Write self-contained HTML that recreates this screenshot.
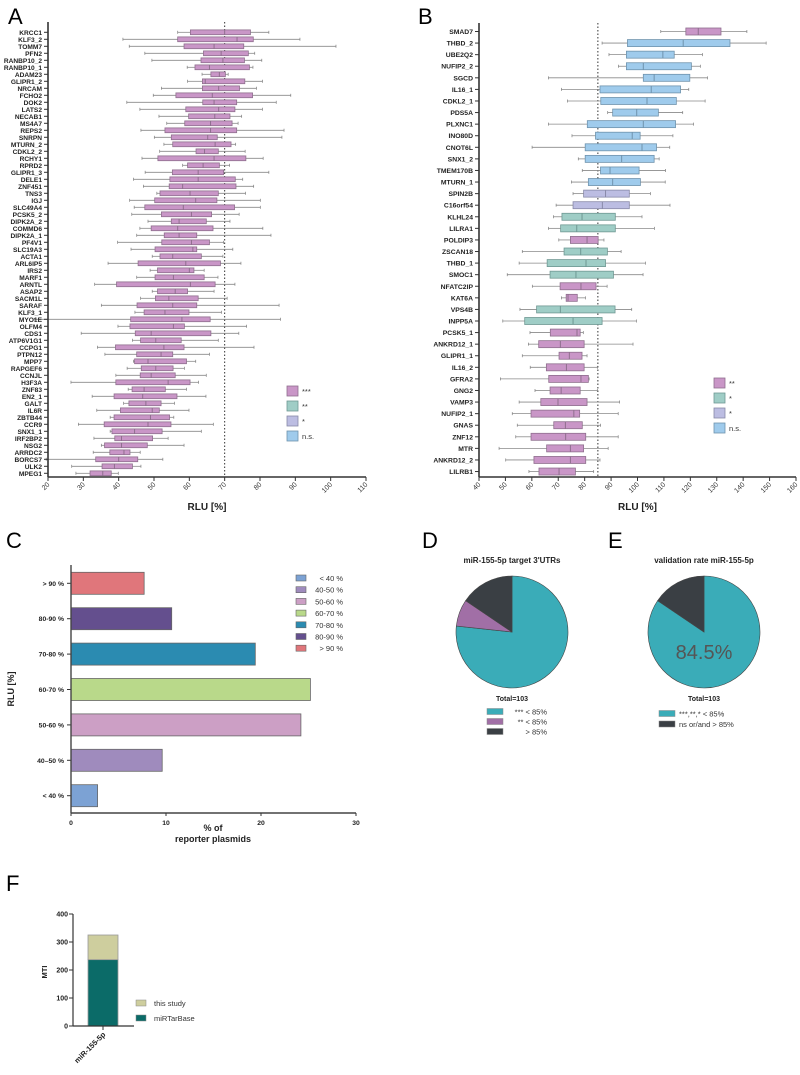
<!DOCTYPE html>
<html><head><meta charset="utf-8"><style>
body{margin:0;background:#fff}
svg text{font-family:"Liberation Sans",Arial,sans-serif}
</style></head><body>
<svg id="fig" width="800" height="1070" viewBox="0 0 800 1070" xmlns="http://www.w3.org/2000/svg">
<text x="8" y="24" font-size="22">A</text>
<text x="418" y="24" font-size="22">B</text>
<text x="6" y="548" font-size="22">C</text>
<text x="422" y="548" font-size="22">D</text>
<text x="608" y="548" font-size="22">E</text>
<text x="6" y="891" font-size="22">F</text>
<g id="pa"></g>
<g id="pb"></g>
<g id="pc"></g>
<g id="pd"></g>
<g id="pe"></g>
<g id="pf"></g>
</svg>
<script>
// ---------- Panel A data ----------
const aGenes=["KRCC1","KLF3_2","TOMM7","PFN2","RANBP10_2","RANBP10_1","ADAM23","GLIPR1_2","NRCAM","FCHO2","DOK2","LATS2","NECAB1","MS4A7","REPS2","SNRPN","MTURN_2","CDKL2_2","RCHY1","RPRD2","GLIPR1_3","DELE1","ZNF451","TNS3","IGJ","SLC49A4","PCSK5_2","DIPK2A_2","COMMD6","DIPK2A_1","PF4V1","SLC19A3","ACTA1","ARL6IP5","IRS2","MARF1","ARNTL","ASAP2","SACM1L","SARAF","KLF3_1","MYO1E","OLFM4","CDS1","ATP6V1G1","CCPG1","PTPN12","MPP7","RAPGEF6","CCNJL","H3F3A","ZNF83","EN2_1","GALT","IL6R","ZBTB44","CCR9","SNX1_1","IRF2BP2","NSG2","ARRDC2","BORCS7","ULK2","MPEG1"];
const aMin=[56.7,41.2,43,47.4,49.4,59.4,63.6,59.5,52.1,49.8,42.3,46,51.4,53.6,46.3,50.1,52.8,51.6,46.6,58.1,47.5,44.2,47,50.8,43.1,44.4,43.7,48.3,46,45.1,39.7,43.5,49.5,37,48.9,45.1,33.2,49.5,46.2,35.1,44.6,16.1,39.8,29.4,43.9,34,36.1,44.2,42.4,39.2,26.5,42.7,32.5,41.4,33.8,37.6,28.6,37.6,33,35.1,32.8,19.5,26.7,27.9];
const aQ1=[60.3,56.7,58.5,64,63.3,61.6,66.1,63.7,63.7,56.2,63.8,59,59.8,58.7,53.1,54.9,55.3,61.9,51.1,59.5,55.2,54.5,54.3,51.7,50.2,47.4,52.1,54.9,49.2,52.9,52.2,50.3,51.7,45.5,51,50.3,39.4,51,50.4,45.2,47.2,43.4,43.2,44.7,46.2,39.1,45.1,44.5,46.4,46.1,39.2,43.8,38.7,42.9,40.5,38.7,35.9,38.1,38.9,36,37.5,33.5,35.3,31.9];
const aMed=[70,73.5,67,69,69.5,65.7,68.5,64.5,68.3,66.5,67,68.3,67.2,66,66,65.2,67.3,64.3,67,63.9,62.5,62.5,58.1,60.2,61.8,58.3,60.6,57.1,56.7,57.1,60.6,61,55.3,59,60,55.5,60.3,56,54.2,55.3,53.1,57.9,55.5,49.2,50.5,52.8,52,48.3,50.5,49.2,54,47.2,46.8,47.7,49.5,49,48.3,44.5,40.8,40.8,41.5,40,38.8,35.5];
const aQ3=[77.3,78.1,75.4,76.7,75.6,77,70.2,75.7,74.2,77.9,73.4,72.9,71.5,72.1,73.4,67.9,71.8,68.2,76,68.5,69.7,73,73.2,68.2,67.8,72.8,66.3,64.8,66.7,62.1,65.7,62.1,63.4,68.8,61.3,64.2,67.3,59.5,62.5,62.1,59.9,65.9,58.6,66.1,57.7,58.5,55.3,59.2,55.4,56,60.2,53.2,56.5,52,51.5,54.4,54.8,52.3,49.6,48.1,43.2,45.4,43.9,37.9];
const aMax=[82.5,91.3,101.5,78.5,80.5,78,71,80.7,79,88.7,84.6,80.7,74.8,73.8,86.8,86.2,73.1,75.8,80.9,71.4,82.5,75.1,78.2,75.9,80.1,80.1,74.1,71.5,80.8,83.1,69.7,72.3,69.5,74.6,64.2,68.1,72.9,67,70.7,85.4,69.1,85.8,76.2,74,68.2,78.3,65.7,61.8,58.6,64.8,62.6,59.2,64.7,55.8,59.9,55.6,66.8,63.4,54,58.5,46.1,52.5,46.3,39.9];
const aSig=aGenes.map(g=>g==="TOMM7"?"**":"***");
const aTicks=[20,30,40,50,60,70,80,90,100,110];
const aLegend=["***","**","*","n.s."];

// ---------- Panel B data ----------
const bGenes=["SMAD7","THBD_2","UBE2Q2","NUFIP2_2","SGCD","IL16_1","CDKL2_1","PDS5A","PLXNC1","INO80D","CNOT6L","SNX1_2","TMEM170B","MTURN_1","SPIN2B","C16orf54","KLHL24","LILRA1","POLDIP3","ZSCAN18","THBD_1","SMOC1","NFATC2IP","KAT6A","VPS4B","INPP5A","PCSK5_1","ANKRD12_1","GLIPR1_1","IL16_2","GFRA2","GNG2","VAMP3","NUFIP2_1","GNAS","ZNF12","MTR","ANKRD12_2","LILRB1"];
const bMin=[108.8,86.6,89.2,92.8,66.3,71.2,73.5,88.7,66.3,75.2,60.1,77.6,79.1,75,75.6,69.2,68.2,66.3,70.2,56.4,55.2,50.7,60.2,71.2,55.5,49,59.3,58.7,56.4,59.4,48.1,61.2,55.2,52.6,54.5,53.9,47.6,50.1,58.9];
const bQ1=[118.3,96.2,95.8,95.8,102.2,85.8,86.1,90.6,81,84.1,80.2,80.2,86,81.4,79.6,75.6,71.4,70.9,74.6,72.2,65.8,66.9,70.7,73,61.8,57.3,67,62.6,70.3,65.5,66.4,66.9,63.4,59.7,68.3,59.7,65.6,60.8,62.7];
const bMed=[123,117.3,109.6,102.2,106.3,105.2,103.6,99.7,102.2,98,101.7,94,89.6,90.6,87.9,86.7,79,77,80.9,78.5,80.5,76.7,78.6,73.7,70.8,75.6,77.1,70.8,74.2,73.1,78.6,71.1,69.9,75.9,72.7,72.8,74.6,74.6,70.3];
const bQ3=[131.6,135,113.9,120.4,119.8,116.3,114.7,107.9,114.4,101,107.2,106.3,100.6,101.1,96.9,96.9,91.6,91.6,85.1,88.6,87.9,90.9,84.3,77.2,91.5,86.6,78.3,79.8,79,79.8,81.4,78.3,80.9,78.1,79.1,80.4,79.6,80.4,76.5];
const bMax=[141.4,148.7,124.6,123.8,126.5,119.4,125.6,117.1,121.2,113.4,112.2,108.2,110.6,110.5,104.9,112.3,101.7,106.4,87.3,93.8,103,102.1,88.5,80.3,97.8,99.6,79.5,98.3,80.9,84.8,81.7,84.8,93.2,92.7,86,92.7,88.9,85.8,83.4];
const bSig=["**","ns","ns","ns","ns","ns","ns","ns","ns","ns","ns","ns","ns","ns","*b","*b","*a","*a","**","*a","*a","*a","**","**","*a","*a","**","**","**","**","**","**","**","**","**","**","**","**","**"];
const bTicks=[40,50,60,70,80,90,100,110,120,130,140,150,160];
const bLegend=["**","*","*","n.s."];

// ---------- Panel C data ----------
const cCats=["> 90 %","80-90 %","70-80 %","60-70 %","50-60 %","40\u201350 %","< 40 %"];
const cValues=[7.7,10.6,19.4,25.2,24.2,9.6,2.8];
const cTicks=[0,10,20,30];
const cLegendLabels=["  < 40 %","40-50 %","50-60 %","60-70 %","70-80 %","80-90 %","  > 90 %"];

// ---------- Panel D / E data ----------
const dLabels=["*** < 85%","** < 85%","> 85%"];
const dValues=[79,8,16];
const eLabels=["***,**,* < 85%","ns or/and > 85%"];
const eValues=[87,16];

// ---------- Panel F data ----------
const fCats=["miR-155-5p"];
const fMirtarbase=[237];
const fThisStudy=[88];
const fTicks=[0,100,200,300,400];

const NS="http://www.w3.org/2000/svg";
function mk(parent,tag,attrs,txt){const e=document.createElementNS(NS,tag);for(const k in attrs)e.setAttribute(k,attrs[k]);if(txt!==undefined)e.textContent=txt;parent.appendChild(e);return e;}
const sigFill={"***":"#c996c7","**":"#c996c7","*a":"#9fcdc6","*b":"#bcbde2","ns":"#9fcbec"};
const sigStroke={"***":"#8f6f8e","**":"#8f6f8e","*a":"#6f9893","*b":"#8889a8","ns":"#6f93ad"};

function boxPanel(root,genes,mn,q1,md,q3,mx,sig,ticks,o){
  const xs=v=>o.x0+(v-ticks[0])/(ticks[ticks.length-1]-ticks[0])*(o.x1-o.x0);
  const ys=i=>o.y0+i*o.step;
  // ref line
  const rl=mk(root,"line",{x1:xs(o.ref),x2:xs(o.ref),y1:o.top,y2:o.bottom,stroke:"#333","stroke-width":1,"stroke-dasharray":"1.5,2"});
  
  
  genes.forEach((g,i)=>{
    const y=ys(i);const key=sig[i]==="**"&&o.pinkDouble?"**":sig[i];
    const grp=mk(root,"g",{});
    
    
    mk(grp,"line",{x1:xs(mn[i]),x2:xs(q1[i]),y1:y,y2:y,stroke:"#8a8a8a","stroke-width":0.8});
    mk(grp,"line",{x1:xs(q3[i]),x2:xs(mx[i]),y1:y,y2:y,stroke:"#8a8a8a","stroke-width":0.8});
    mk(grp,"line",{x1:xs(mn[i]),x2:xs(mn[i]),y1:y-1.5,y2:y+1.5,stroke:"#8a8a8a","stroke-width":0.8});
    mk(grp,"line",{x1:xs(mx[i]),x2:xs(mx[i]),y1:y-1.5,y2:y+1.5,stroke:"#8a8a8a","stroke-width":0.8});
    mk(grp,"rect",{x:xs(q1[i]),y:y-o.bh/2,width:xs(q3[i])-xs(q1[i]),height:o.bh,fill:sigFill[key],stroke:sigStroke[key],"stroke-width":0.8});
    mk(grp,"line",{x1:xs(md[i]),x2:xs(md[i]),y1:y-o.bh/2,y2:y+o.bh/2,stroke:sigStroke[key],"stroke-width":1});
    const lb=mk(root,"text",{x:o.x0-6,y:y+2.5,"font-size":o.fs,"font-weight":"bold","text-anchor":"end",fill:"#222"},g);
    
    
    mk(root,"line",{x1:o.x0-4,x2:o.x0,y1:y,y2:y,stroke:"#333","stroke-width":1});
  });
  const ya=mk(root,"line",{x1:o.x0,x2:o.x0,y1:o.top,y2:o.bottom,stroke:"#333","stroke-width":1.6});
  
  
  const xa=mk(root,"line",{x1:o.x0,x2:o.x1,y1:o.bottom,y2:o.bottom,stroke:"#333","stroke-width":1.6});
  
  
  ticks.forEach(t=>{
    mk(root,"line",{x1:xs(t),x2:xs(t),y1:o.bottom,y2:o.bottom+4,stroke:"#333","stroke-width":1});
    const tl=mk(root,"text",{x:xs(t)+2,y:o.bottom+8,"font-size":7,"text-anchor":"end",fill:"#333",transform:`rotate(-45 ${xs(t)+2} ${o.bottom+8})`},String(t));
    
    
  });
  const xt=mk(root,"text",{x:(o.x0+o.x1)/2,y:o.bottom+33,"font-size":10,"font-weight":"bold","text-anchor":"middle",fill:"#222"},"RLU [%]");
  
  
  o.legend.forEach((l,i)=>{
    const y=o.ly+i*15;
    const sw=mk(root,"rect",{x:o.lx,y:y-5,width:11,height:10,fill:o.lfill[i],stroke:o.lstroke[i],"stroke-width":0.8});
    
    
    const lt=mk(root,"text",{x:o.lx+15,y:y+3,"font-size":7.5,fill:"#333"},l);
    
    
  });
}
boxPanel(document.getElementById("pa"),aGenes,aMin,aQ1,aMed,aQ3,aMax,aSig,aTicks,
 {x0:48,x1:366,y0:32.3,step:7.0,bh:4.8,top:22,bottom:477,ref:70,fs:6.6,lx:287,ly:391,legend:aLegend,
  lfill:["#c996c7","#9fcdc6","#bcbde2","#9fcbec"],lstroke:["#8f6f8e","#6f9893","#8889a8","#6f93ad"]});
boxPanel(document.getElementById("pb"),bGenes,bMin,bQ1,bMed,bQ3,bMax,bSig,bTicks,
 {x0:479,x1:796,y0:31.5,step:11.58,bh:7,top:23,bottom:477,ref:85,fs:6.8,lx:714,ly:383,legend:bLegend,
  lfill:["#c996c7","#9fcdc6","#bcbde2","#9fcbec"],lstroke:["#8f6f8e","#6f9893","#8889a8","#6f93ad"]});

// ---------- Panel C ----------
(function(){
  const root=document.getElementById("pc");
  const x0=71,x1=356,top=565,bottom=813,yc0=583.3,step=35.4,bh=22;
  const xs=v=>x0+(v-cTicks[0])/(cTicks[cTicks.length-1]-cTicks[0])*(x1-x0);
  const colors=["#e0767b","#644f8e","#2b8bb1","#b9d98a","#cc9fc5","#9f8bbd","#7ca2d4"];
  cCats.forEach((c,i)=>{
    const y=yc0+i*step;
    const r=mk(root,"rect",{x:x0,y:y-bh/2,width:xs(cValues[i])-x0,height:bh,fill:colors[i],stroke:"#666","stroke-width":0.8});
    
    
    mk(root,"line",{x1:x0-4,x2:x0,y1:y,y2:y,stroke:"#333"});
    const t=mk(root,"text",{x:x0-7,y:y+2.5,"font-size":6.8,"font-weight":"bold","text-anchor":"end",fill:"#222"},c);
    
    
  });
  const ya=mk(root,"line",{x1:x0,x2:x0,y1:top,y2:bottom,stroke:"#444","stroke-width":1.4});
  
  
  const xa=mk(root,"line",{x1:x0,x2:x1,y1:bottom,y2:bottom,stroke:"#444","stroke-width":1.4});
  
  
  cTicks.forEach(t=>{
    mk(root,"line",{x1:xs(t),x2:xs(t),y1:bottom,y2:bottom+3,stroke:"#333"});
    const tl=mk(root,"text",{x:xs(t),y:bottom+12,"font-size":6.8,"font-weight":"bold","text-anchor":"middle",fill:"#222"},String(t));
    
    
  });
  const xt=mk(root,"text",{x:213,y:831,"font-size":9,"font-weight":"bold","text-anchor":"middle",fill:"#222"},"% of");
  
  
  const xt2=mk(root,"text",{x:213,y:842,"font-size":9,"font-weight":"bold","text-anchor":"middle",fill:"#222"},"reporter plasmids");
  
  
  const yt=mk(root,"text",{x:0,y:0,"font-size":9,"font-weight":"bold","text-anchor":"middle",fill:"#222",transform:"translate(14 689) rotate(-90)"},"RLU [%]");
  
  
  const lc=["#7ca2d4","#9f8bbd","#cc9fc5","#b9d98a","#2b8bb1","#644f8e","#e0767b"];
  cLegendLabels.forEach((l,i)=>{
    const y=578+i*11.7;
    const s=mk(root,"rect",{x:296,y:y-3,width:10,height:6,fill:lc[i],stroke:"#666","stroke-width":0.6});
    
    
    const t=mk(root,"text",{x:343,y:y+3,"font-size":7.5,"text-anchor":"end",fill:"#333"},l.trim());
    
    
  });
})();

// ---------- Pies ----------
function pie(root,cx,cy,r,vals,cols){
  const tot=vals.reduce((a,b)=>a+b,0);let a0=0;
  vals.forEach((v,i)=>{
    const a1=a0+v/tot*2*Math.PI;
    const p=(a)=>[cx+r*Math.sin(a),cy-r*Math.cos(a)];
    const [sx,sy]=p(a0),[ex,ey]=p(a1);
    const s=mk(root,"path",{d:`M${cx},${cy}L${sx},${sy}A${r},${r} 0 ${a1-a0>Math.PI?1:0} 1 ${ex},${ey}Z`,fill:cols[i],stroke:"#444","stroke-width":0.6});
    
    
    a0=a1;
  });
}
(function(){
  const d=document.getElementById("pd");
  const dc=["#3aacb8","#a16fa6","#3a3f44"];
  const t=mk(d,"text",{x:512,y:563,"font-size":8,"font-weight":"bold","text-anchor":"middle",fill:"#222"},"miR-155-5p target 3'UTRs");
  
  
  pie(d,512,632,56,dValues,dc);
  const tt=mk(d,"text",{x:512,y:701,"font-size":7,"font-weight":"bold","text-anchor":"middle",fill:"#222"},"Total="+dValues.reduce((a,b)=>a+b,0));
  
  
  dLabels.forEach((l,i)=>{
    const y=711+i*10;
    const s=mk(d,"rect",{x:487,y:y-2.5,width:16,height:6,fill:dc[i],stroke:"#888","stroke-width":0.5});
    
    
    const lt=mk(d,"text",{x:547,y:y+3.5,"font-size":7.5,"text-anchor":"end",fill:"#333"},l);
    
    
  });
  const e=document.getElementById("pe");
  const ec=["#3aacb8","#3a3f44"];
  const t2=mk(e,"text",{x:704,y:563,"font-size":8,"font-weight":"bold","text-anchor":"middle",fill:"#222"},"validation rate miR-155-5p");
  
  
  pie(e,704,632,56,eValues,ec);
  const pct=mk(e,"text",{x:704,y:659,"font-size":20,"text-anchor":"middle",fill:"#555"},(eValues[0]/(eValues[0]+eValues[1])*100).toFixed(1)+"%");
  
  
  const tt2=mk(e,"text",{x:704,y:701,"font-size":7,"font-weight":"bold","text-anchor":"middle",fill:"#222"},"Total="+eValues.reduce((a,b)=>a+b,0));
  
  
  eLabels.forEach((l,i)=>{
    const y=713+i*10.5;
    const s=mk(e,"rect",{x:659,y:y-2.5,width:16,height:6,fill:ec[i],stroke:"#888","stroke-width":0.5});
    
    
    const lt=mk(e,"text",{x:679,y:y+3.5,"font-size":7.5,fill:"#333"},l);
    
    
  });
})();

// ---------- Panel F ----------
(function(){
  const f=document.getElementById("pf");
  const x0=73,y0=1026,ytop=914;
  const ys=v=>y0-(v-fTicks[0])/(fTicks[fTicks.length-1]-fTicks[0])*(y0-ytop);
  fCats.forEach((c,i)=>{
    const bx=88+i*50,bw=30;
    const b1=mk(f,"rect",{x:bx,y:ys(fMirtarbase[i]),width:bw,height:y0-ys(fMirtarbase[i]),fill:"#0b6b68",stroke:"#999","stroke-width":0.8});
    
    
    const top=fMirtarbase[i]+fThisStudy[i];
    const b2=mk(f,"rect",{x:bx,y:ys(top),width:bw,height:ys(fMirtarbase[i])-ys(top),fill:"#cece9e",stroke:"#999","stroke-width":0.8});
    
    
    mk(f,"line",{x1:bx+bw/2,x2:bx+bw/2,y1:y0,y2:y0+4,stroke:"#333"});
    const cl=mk(f,"text",{x:bx+bw/2+3,y:y0+9,"font-size":7.5,"font-weight":"bold","text-anchor":"end",fill:"#222",transform:`rotate(-45 ${bx+bw/2+3} ${y0+9})`},c);
    
    
  });
  const ya=mk(f,"line",{x1:x0,x2:x0,y1:ytop,y2:y0,stroke:"#333","stroke-width":1.2});
  
  
  const xa=mk(f,"line",{x1:x0,x2:134,y1:y0,y2:y0,stroke:"#333","stroke-width":1.2});
  
  
  fTicks.forEach(t=>{
    mk(f,"line",{x1:x0-4,x2:x0,y1:ys(t),y2:ys(t),stroke:"#333"});
    const tl=mk(f,"text",{x:x0-5,y:ys(t)+2.5,"font-size":7,"font-weight":"bold","text-anchor":"end",fill:"#222"},String(t));
    
    
  });
  const yt=mk(f,"text",{x:0,y:0,"font-size":7.5,"font-weight":"bold","text-anchor":"middle",fill:"#222",transform:"translate(47 972) rotate(-90)"},"MTI");
  
  
  const lg=[["this study","#cece9e"],["miRTarBase","#0b6b68"]];
  lg.forEach((l,i)=>{
    const y=1003+i*15;
    const s=mk(f,"rect",{x:136,y:y-3,width:10,height:6,fill:l[1],stroke:"#888","stroke-width":0.5});
    
    
    const t=mk(f,"text",{x:154,y:y+3,"font-size":7.5,fill:"#333"},l[0]);
    
    
  });
})();
</script>
</body></html>
